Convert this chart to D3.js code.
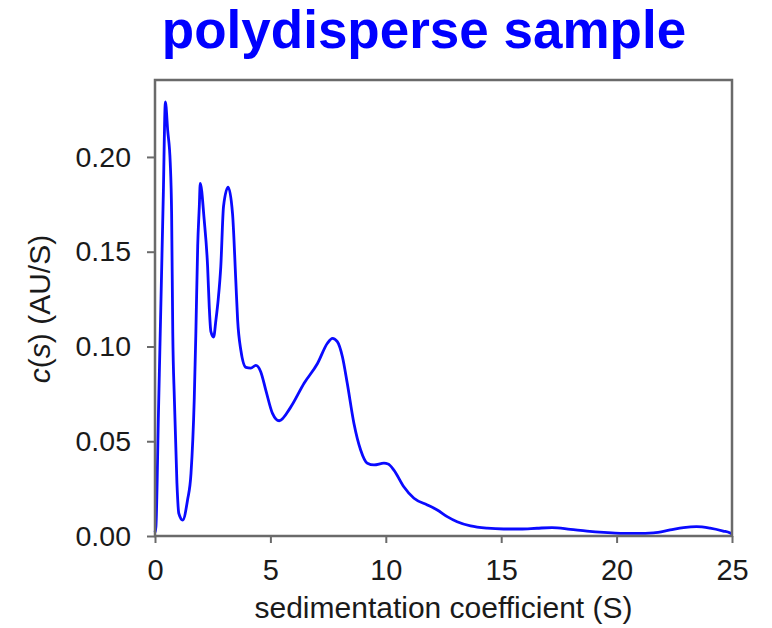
<!DOCTYPE html>
<html>
<head>
<meta charset="utf-8">
<script src="https://cdn.jsdelivr.net/npm/d3@7"></script>
<style>
  body { margin: 0; background: #fff; }
  .axis text { font-family: "Liberation Sans", Arial, sans-serif; fill: #1a1a1a; }
</style>
</head>
<body>
<script>
// c(s) distribution, sedimentation coefficient in S vs c(s) in AU/S
const sValues = [0, 0.04, 0.15, 0.26, 0.36, 0.45, 0.55, 0.66, 0.72, 0.77, 0.84, 0.95, 1.03, 1.2, 1.41, 1.56,
  1.7, 1.77, 1.85, 1.92, 1.96, 2.13, 2.28, 2.35, 2.42, 2.54, 2.64, 2.74, 2.85, 2.97, 3.17, 3.36, 3.5,
  3.58, 3.72, 3.94, 4.15, 4.37, 4.58, 4.8, 5.09, 5.38, 5.88, 6.46, 7.04, 7.47, 7.69, 7.9, 8.12, 8.33,
  8.62, 8.91, 9.2, 9.49, 9.92, 10.1, 10.35, 10.78, 11.22, 11.8, 12.23, 12.66, 13.09, 13.67, 14.39, 15.11,
  15.83, 16.55, 17.2, 18.0, 18.72, 19.44, 20.16, 20.88, 21.6, 22.32, 22.9, 23.46, 24.05, 24.62, 24.9, 25]
const csValues = [0.002, 0.005, 0.065, 0.125, 0.18, 0.229, 0.214, 0.197, 0.17, 0.107, 0.072, 0.028, 0.012, 0.0084, 0.019, 0.033,
  0.072, 0.107, 0.153, 0.174, 0.186, 0.167, 0.142, 0.121, 0.108, 0.105, 0.114, 0.125, 0.142, 0.174, 0.184, 0.17, 0.135,
  0.114, 0.098, 0.089, 0.0886, 0.09, 0.0867, 0.077, 0.0647, 0.0608, 0.068, 0.0806, 0.091, 0.1017, 0.1043, 0.1026, 0.0946, 0.0806,
  0.0594, 0.0454, 0.0384, 0.0375, 0.0384, 0.038, 0.0348, 0.026, 0.0199, 0.0164, 0.0137, 0.0102, 0.0075, 0.0053, 0.0041, 0.0037,
  0.0037, 0.0041, 0.0044, 0.0035, 0.0026, 0.0019, 0.0014, 0.0014, 0.0017, 0.0032, 0.0044, 0.0049, 0.0041, 0.0026, 0.0017, 0.001]

const xTicks = [0, 5, 10, 15, 20, 25]
const yTicks = [0, 0.05, 0.10, 0.15, 0.20]

const titleText = 'polydisperse sample'
const xLabel = 'sedimentation coefficient (S)'

const data = sValues.map((s, i) => ({ s: s, c: csValues[i] }))

var margin = {top: 80, right: 40, bottom: 92, left: 155}
  , width = 772 - margin.left - margin.right
  , height = 628 - margin.top - margin.bottom

var x = d3.scaleLinear()
    .domain([0, 25])
    .range([0, width])

var y = d3.scaleLinear()
    .domain([0, 0.2406])
    .range([height, 0])

var svg = d3.select('body')
    .append('svg')
    .attr('width', 772)
    .attr('height', 628)

// title
svg.append('text')
  .attr('x', 424)
  .attr('y', 48)
  .attr('text-anchor', 'middle')
  .attr('font-family', '"Liberation Sans", Arial, sans-serif')
  .attr('font-weight', 'bold')
  .attr('font-size', 53)
  .attr('fill', '#0000ff')
  .text(titleText)

var main = svg.append('g')
    .attr('transform', 'translate(' + margin.left + ',' + margin.top + ')')

// the curve
main.append('path')
  .datum(data)
  .attr('fill', 'none')
  .attr('stroke', '#0a0aff')
  .attr('stroke-width', 2.8)
  .attr('stroke-linejoin', 'round')
  .attr('d', d3.line()
        .x(d => x(d.s))
        .y(d => y(d.c))
        .curve(d3.curveMonotoneX))

// frame
main.append('rect')
  .attr('x', 0)
  .attr('y', 0)
  .attr('width', width)
  .attr('height', height)
  .attr('fill', 'none')
  .attr('stroke', '#6a6a6a')
  .attr('stroke-width', 2.5)

// x axis
var xAxis = d3.axisBottom(x)
    .tickValues(xTicks)
    .tickSize(7)
    .tickPadding(16)
    .tickFormat(d3.format('d'))

var gx = main.append('g')
  .attr('class', 'axis')
  .attr('transform', 'translate(0,' + height + ')')
  .call(xAxis)
gx.select('.domain').remove()
gx.selectAll('line').attr('stroke', '#6a6a6a').attr('stroke-width', 2)
gx.selectAll('text').attr('font-size', 29)

// y axis
var yAxis = d3.axisLeft(y)
    .tickValues(yTicks)
    .tickSize(8)
    .tickPadding(16)
    .tickFormat(d3.format('.2f'))

var gy = main.append('g')
  .attr('class', 'axis')
  .call(yAxis)
gy.select('.domain').remove()
gy.selectAll('line').attr('stroke', '#6a6a6a').attr('stroke-width', 2)
gy.selectAll('text').attr('font-size', 28.5)

// axis titles
svg.append('text')
  .attr('x', margin.left + width / 2)
  .attr('y', 618)
  .attr('text-anchor', 'middle')
  .attr('font-family', '"Liberation Sans", Arial, sans-serif')
  .attr('font-size', 30)
  .attr('fill', '#1a1a1a')
  .text(xLabel)

var yl = svg.append('text')
  .attr('transform', 'translate(50,309) rotate(-90)')
  .attr('text-anchor', 'middle')
  .attr('font-family', '"Liberation Sans", Arial, sans-serif')
  .attr('font-size', 30)
  .attr('fill', '#1a1a1a')
yl.append('tspan').attr('font-style', 'italic').text('c')
yl.append('tspan').text('(')
yl.append('tspan').attr('font-style', 'italic').text('s')
yl.append('tspan').text(') (AU/S)')
</script>
</body>
</html>
